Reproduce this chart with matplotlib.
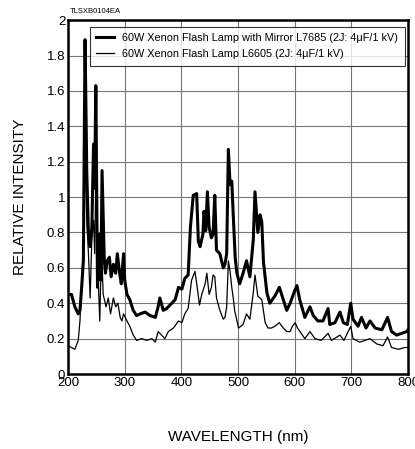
import matplotlib
matplotlib.use("Agg")
import matplotlib.pyplot as plt
from matplotlib import font_manager

# spectra
WL_MIRROR = [200, 206, 212, 218, 221, 224, 227, 230, 233, 236, 239, 242, 245, 247, 249,
             251, 252, 255, 258, 260, 264, 266, 269, 273, 276, 280, 284, 287, 291, 294,
             298, 300, 304, 309, 315, 321, 327, 336, 345, 354, 359, 362, 368, 374, 383,
             389, 395, 401, 406, 412, 416, 421, 427, 430, 433, 438, 440, 443, 446, 449,
             453, 456, 459, 462, 468, 474, 477, 480, 483, 486, 489, 492, 495, 498, 503,
             509, 515, 521, 527, 530, 535, 539, 542, 545, 551, 556, 565, 573, 580, 586,
             592, 600, 604, 609, 618, 627, 633, 641, 650, 659, 662, 671, 680, 686, 693,
             699, 703, 712, 718, 726, 733, 742, 754, 764, 771, 780, 789, 798, 800]
I_MIRROR = [0.45, 0.45, 0.38, 0.34, 0.36, 0.49, 0.64, 1.89, 1.15, 0.79, 0.72, 0.83, 1.30, 1.05, 1.63,
            0.87, 0.49, 0.79, 0.53, 1.15, 0.64, 0.57, 0.64, 0.66, 0.55, 0.62, 0.57, 0.68, 0.57, 0.51,
            0.68, 0.53, 0.45, 0.42, 0.36, 0.33, 0.34, 0.35, 0.33, 0.32, 0.38, 0.43, 0.36, 0.37, 0.40,
            0.42, 0.49, 0.48, 0.54, 0.56, 0.83, 1.01, 1.02, 0.75, 0.72, 0.79, 0.92, 0.81, 1.03, 0.83,
            0.77, 0.79, 1.01, 0.70, 0.68, 0.60, 0.62, 0.68, 1.27, 1.07, 1.09, 0.87, 0.66, 0.57, 0.51,
            0.57, 0.64, 0.55, 0.76, 1.03, 0.80, 0.90, 0.86, 0.63, 0.46, 0.40, 0.44, 0.49, 0.42, 0.36,
            0.40, 0.47, 0.50, 0.42, 0.32, 0.38, 0.33, 0.30, 0.30, 0.37, 0.28, 0.29, 0.35, 0.29, 0.28,
            0.40, 0.31, 0.27, 0.32, 0.26, 0.30, 0.26, 0.25, 0.32, 0.24, 0.22, 0.23, 0.24, 0.25]

WL_PLAIN = [200, 206, 212, 218, 221, 224, 227, 230, 233, 236, 239, 242, 245, 247, 249,
            252, 256, 259, 262, 267, 271, 275, 280, 284, 288, 292, 295, 298, 304, 309,
            315, 321, 330, 339, 348, 354, 359, 365, 371, 377, 386, 395, 401, 406, 412,
            418, 424, 428, 432, 436, 442, 445, 449, 453, 456, 459, 462, 468, 474, 477,
            480, 483, 486, 489, 492, 494, 501, 509, 515, 521, 527, 530, 535, 542, 548,
            553, 559, 565, 573, 580, 586, 592, 596, 601, 605, 618, 627, 636, 647, 659,
            665, 680, 687, 699, 703, 715, 733, 745, 756, 764, 771, 783, 795, 800]
I_PLAIN = [0.16, 0.15, 0.14, 0.19, 0.30, 0.51, 0.68, 1.28, 0.87, 0.68, 0.43, 0.77, 0.87, 0.68, 1.11,
           0.64, 0.30, 0.72, 0.45, 0.38, 0.43, 0.34, 0.43, 0.38, 0.40, 0.32, 0.30, 0.34, 0.30, 0.27,
           0.22, 0.19, 0.20, 0.19, 0.20, 0.18, 0.24, 0.22, 0.20, 0.24, 0.26, 0.30, 0.29, 0.34, 0.37,
           0.53, 0.58, 0.49, 0.39, 0.45, 0.51, 0.57, 0.45, 0.49, 0.56, 0.55, 0.43, 0.36, 0.31, 0.32,
           0.38, 0.64, 0.58, 0.49, 0.42, 0.36, 0.26, 0.28, 0.34, 0.31, 0.46, 0.56, 0.44, 0.42, 0.29,
           0.26, 0.26, 0.27, 0.29, 0.26, 0.24, 0.24, 0.27, 0.29, 0.26, 0.20, 0.24, 0.20, 0.19, 0.23,
           0.19, 0.22, 0.19, 0.27, 0.20, 0.18, 0.20, 0.17, 0.16, 0.21, 0.15, 0.14, 0.15, 0.15]

LABEL_MIRROR = "60W Xenon Flash Lamp with Mirror L7685 (2J: 4\u03bcF/1 kV)"
LABEL_PLAIN = "60W Xenon Flash Lamp L6605 (2J: 4\u03bcF/1 kV)"
X_TICKS = [200, 300, 400, 500, 600, 700, 800]
Y_TICKS = [0, 0.2, 0.4, 0.6, 0.8, 1, 1.2, 1.4, 1.6, 1.8, 2]
Y_TICK_LABELS = ["0", "0.2", "0.4", "0.6", "0.8", "1", "1.2", "1.4", "1.6", "1.8", "2"]

names = {f.name for f in font_manager.fontManager.ttflist}
family = "Liberation Sans Narrow" if "Liberation Sans Narrow" in names else "Liberation Sans"
plt.rcParams["font.family"] = [family, "DejaVu Sans"]

fig = plt.figure(figsize=(4.15, 4.49), dpi=100)
ax = fig.add_axes([0.164, 0.167, 0.819, 0.788])

ax.plot(WL_PLAIN, I_PLAIN, color="black", lw=0.9, label=LABEL_PLAIN, zorder=3)
ax.plot(WL_MIRROR, I_MIRROR, color="black", lw=2.2, label=LABEL_MIRROR, zorder=4)

ax.set_xlim(200, 800)
ax.set_ylim(0, 2)
ax.set_xticks(X_TICKS)
ax.set_yticks(Y_TICKS)
ax.set_yticklabels(Y_TICK_LABELS)
ax.tick_params(length=0, labelsize=9.5, pad=2)
ax.grid(True, color="#777777", lw=0.8)
for s in ax.spines.values():
    s.set_linewidth(1.8)

ax.set_xlabel("WAVELENGTH (nm)", fontsize=11, labelpad=30)
ax.set_ylabel("RELATIVE INTENSITY", fontsize=11, labelpad=14)

handles, labels = ax.get_legend_handles_labels()
leg = ax.legend(handles[::-1], labels[::-1], loc="upper right", bbox_to_anchor=(0.99, 0.982),
                fontsize=7.8, frameon=True, fancybox=False, edgecolor="black",
                handlelength=1.6, borderpad=0.6, labelspacing=0.55, borderaxespad=0)
leg.get_frame().set_linewidth(0.8)

fig.text(0.169, 0.972, "TLSXB0104EA", fontsize=5.5)

fig.savefig("out.png", dpi=100)
